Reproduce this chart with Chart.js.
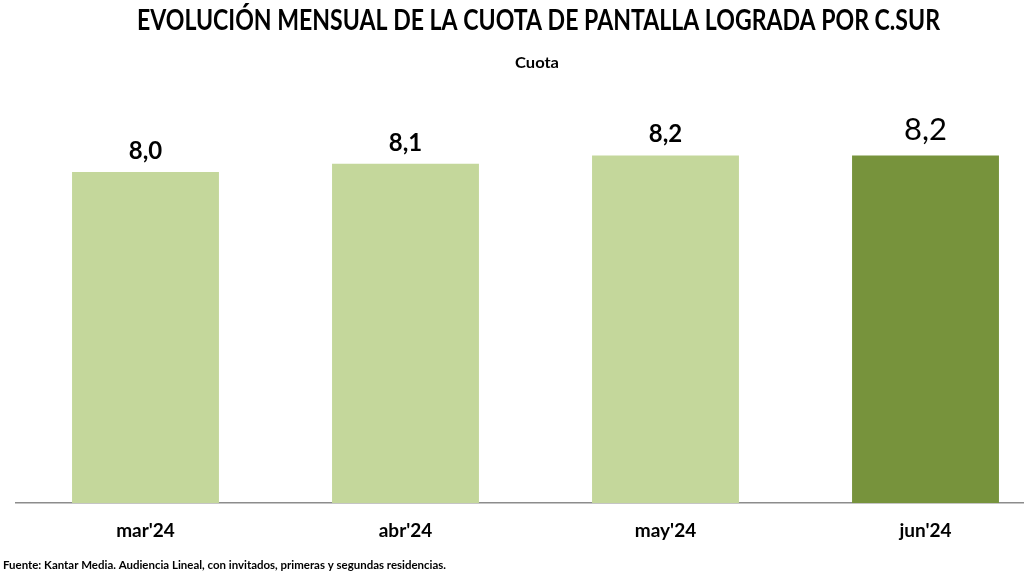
<!DOCTYPE html>
<html>
<head>
<meta charset="utf-8">
<script src="https://cdn.jsdelivr.net/npm/chart.js@4.4.1/dist/chart.umd.min.js"></script>
<style>
  html, body { margin: 0; padding: 0; overflow: hidden; background: #fff; width: 1024px; height: 576px; }
  #wrap { position: absolute; left: 0; top: 0; width: 1070px; height: 576px; }
</style>
</head>
<body>
<div id="wrap"><canvas id="c"></canvas></div>
<script>
const categories = ["mar'24", "abr'24", "may'24", "jun'24"];
const cuota = [8.0, 8.1, 8.2, 8.2];
const valueLabels = ["8,0", "8,1", "8,2", "8,2"];
const titleText = "EVOLUCIÓN MENSUAL DE LA CUOTA DE PANTALLA LOGRADA POR C.SUR";
const subtitleText = "Cuota";
const sourceText = "Fuente: Kantar Media. Audiencia Lineal, con invitados, primeras y segundas residencias.";

const lightGreen = '#C4D79B';
const darkGreen = '#77933C';

function drawFit(ctx, text, x, y, font, targetW, color) {
  ctx.save();
  ctx.font = font;
  ctx.fillStyle = color || '#000';
  ctx.textAlign = 'left';
  ctx.textBaseline = 'alphabetic';
  const w = ctx.measureText(text).width;
  const s = targetW / w;
  ctx.translate(x, y);
  ctx.scale(s, 1);
  ctx.fillText(text, 0, 0);
  ctx.restore();
}

const textPlugin = {
  id: 'texts',
  afterDraw(chart) {
    const ctx = chart.ctx;
    drawFit(ctx, titleText, 137, 30, "bold 28px Lato", 803, '#000');
    drawFit(ctx, subtitleText, 515, 68, "bold 15px Lato", 44, '#000');
    drawFit(ctx, sourceText, 3, 569, "bold 11px Lato", 443, '#000');
  },
  afterDatasetsDraw(chart) {
    const ctx = chart.ctx;
    const meta = chart.getDatasetMeta(0);
    meta.data.forEach((bar, i) => {
      ctx.save();
      ctx.fillStyle = '#000';
      ctx.textAlign = 'center';
      ctx.textBaseline = 'alphabetic';
      if (i === categories.length - 1) {
        ctx.font = "31px Lato";
        ctx.fillText(valueLabels[i], bar.x, bar.y - 15.5);
      } else {
        ctx.font = "bold 24px Lato";
        ctx.fillText(valueLabels[i], bar.x, bar.y - 13);
      }
      ctx.restore();
    });
  }
};

new Chart(document.getElementById('c'), {
  type: 'bar',
  data: {
    labels: categories,
    datasets: [{
      label: 'Cuota',
      data: cuota,
      backgroundColor: categories.map((c, i) => i === categories.length - 1 ? darkGreen : lightGreen),
      borderWidth: 0,
      categoryPercentage: 1,
      barPercentage: 0.565
    }]
  },
  options: {
    responsive: true,
    maintainAspectRatio: false,
    animation: false,
    layout: { padding: { left: 15.5, right: 14.5, top: 89.25, bottom: 0 } },
    plugins: { legend: { display: false }, title: { display: false }, tooltip: { enabled: false } },
    scales: {
      y: { display: false, min: 4, max: 9 },
      x: {
        grid: { display: false, drawTicks: false },
        border: { display: true, color: '#8C8C8C', width: 1.5 },
        ticks: { color: '#000', font: { family: 'Lato', weight: 'bold', size: 19 }, padding: 16 },
        afterFit(scale) { scale.height = 73; }
      }
    }
  },
  plugins: [textPlugin]
});
</script>
</body>
</html>
